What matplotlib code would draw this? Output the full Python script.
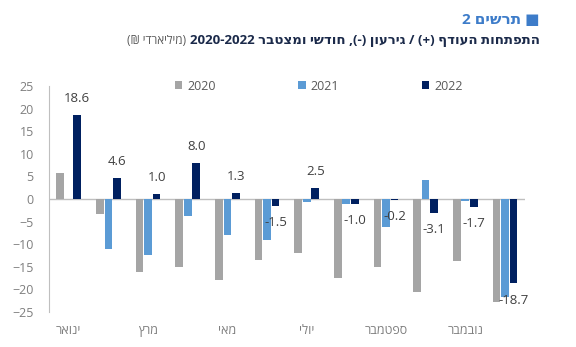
import re
import numpy as np
import matplotlib
matplotlib.use("Agg")
import matplotlib.pyplot as plt

plt.rcParams['font.family'] = ['Open Sans', 'DejaVu Sans']

# monthly surplus (+) / deficit (-), NIS billions
months = ["ינואר", "פברואר", "מרץ", "אפריל", "מאי", "יוני",
          "יולי", "אוגוסט", "ספטמבר", "אוקטובר", "נובמבר", "דצמבר"]
y2020 = [5.7, -3.4, -16.1, -15.0, -17.9, -13.4, -12.0, -17.4, -15.0, -20.5, -13.7, -22.7]
y2021 = [0.0, -11.1, -12.4, -3.8, -8.0, -9.1, -0.7, -1.2, -6.3, 4.2, -0.5, -21.7]
y2022 = [18.6, 4.6, 1.0, 8.0, 1.3, -1.5, 2.5, -1.0, -0.2, -3.1, -1.7, -18.7]
series_names = ["2020", "2021", "2022"]
colors = ["#a5a5a5", "#5b9bd5", "#002060"]

title_num = "■ תרשים 2"
title_main = "התפתחות העודף (+) / גירעון (-), חודשי ומצטבר 2020-2022"
title_unit = "(מיליארדי ₪)"


def visual(s):
    # matplotlib has no bidi support: flip the string for RTL display,
    # keep number runs in order and swap the brackets
    s = s[::-1]
    s = re.sub(r"[0-9][0-9.\-]*[0-9]|[0-9]", lambda m: m.group(0)[::-1], s)
    return s.translate(str.maketrans("()", ")("))


fig = plt.figure(figsize=(5.76, 3.47), dpi=100)
ax = fig.add_axes([0.085, 0.101, 0.826, 0.651])

x = np.arange(len(months))
step = 0.215
bars = []
for i, (vals, c) in enumerate(zip([y2020, y2021, y2022], colors)):
    bars.append(ax.bar(x + (i - 1) * step, vals, width=0.195, color=c, zorder=2))

for xi, v in zip(x, y2022):
    ax.annotate(f"{v:.1f}", (xi + step, v), xytext=(0, 12 if v >= 0 else -12),
                textcoords="offset points", ha="center", va="center",
                fontsize=9.5, color="#404040")

ax.axhline(0, color="#bfbfbf", lw=1, zorder=1)
ax.set_xlim(-0.5, len(months) - 0.5)
ax.set_ylim(-25, 25)
ax.set_yticks(np.arange(-25, 26, 5))
ax.set_xticks(x[::2])
ax.set_xticklabels([visual(m) for m in months[::2]])
ax.tick_params(axis="y", length=0, pad=11, labelsize=9, labelcolor="#7f7f7f")
ax.tick_params(axis="x", length=0, pad=9, labelsize=9, labelcolor="#7f7f7f")
for side in ["top", "right", "bottom"]:
    ax.spines[side].set_visible(False)
ax.spines["left"].set_color("#bfbfbf")

ax.legend(bars, series_names, loc="center", bbox_to_anchor=(0.567, 1.0),
          ncol=3, frameon=False, fontsize=9, labelcolor="#595959",
          handlelength=0.6, handleheight=0.6, handletextpad=0.4,
          columnspacing=6.6)

fig.text(0.9375, 0.942, visual(title_num), ha="right", va="center",
         fontsize=11, fontweight="bold", color="#3d7cc9")
t_main = fig.text(0.9375, 0.882, visual(title_main), ha="right", va="center",
                  fontsize=9.5, fontweight="bold", color="#1b2a4a")
fig.canvas.draw()
bb = t_main.get_window_extent(fig.canvas.get_renderer())
fig.text(bb.x0 / fig.bbox.width - 0.006, 0.882, visual(title_unit), ha="right",
         va="center", fontsize=8.5, color="#595959")

fig.savefig("out.png", dpi=100)
